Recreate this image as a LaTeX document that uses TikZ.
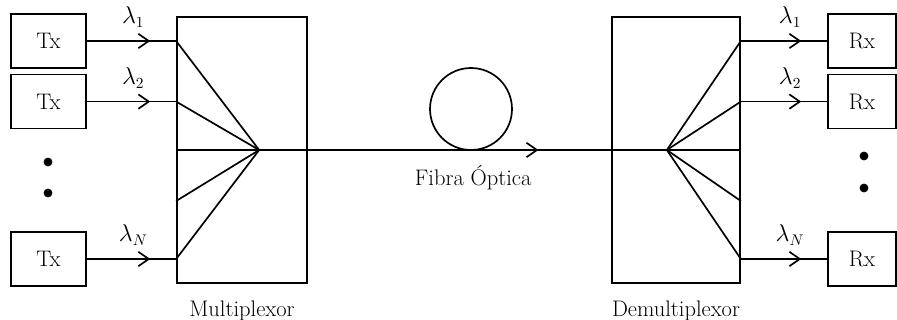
\documentclass[tikz,border=0pt]{standalone}
\usepackage{amsmath, amssymb}
\usepackage{tikz}
\usetikzlibrary{arrows.meta, positioning, decorations.markings}

\begin{document}
\begin{tikzpicture}[
        font=\fontsize{16}{18}\selectfont,
        line width=1.2pt,
        box/.style={rectangle, draw, minimum height=1.35cm, minimum width=1.875cm},
        mux/.style={rectangle, draw, minimum height=6.65cm, minimum width=3.25cm},
        lam/.style={above=2mm},
        sig/.style={decoration={markings, mark=at position #1 with {\arrow{Straight Barb[length=2.6mm, width=3.6mm]}}}, postaction={decorate}},
        dot/.style={circle, fill, inner sep=0pt, minimum size=2.2mm}
    ]
        \useasboundingbox (0,0) rectangle (22.425,8);
        % transmitters
        \node[box] (T1) at (1.21,6.975) {Tx};
        \node[box] (T2) at (1.21,5.46) {Tx};
        \node[box] (TN) at (1.21,1.525) {Tx};
        \node[dot] (tdot1) at (1.2,3.95) {};
        \node[dot] (tdot2) at (1.2,3.175) {};
        % multiplexor and demultiplexor
        \node[mux] (M) at (6.05,4.25) {};
        \node[mux, minimum width=3.2cm] (D) at (16.9,4.25) {};
        \node[below=0.3cm of M] (Ml) {Multiplexor};
        \node[below=0.3cm of D] (Dl) {Demultiplexor};
        % receivers
        \node[box, minimum width=1.7cm] (R1) at (21.55,6.975) {Rx};
        \node[box, minimum width=1.7cm] (R2) at (21.55,5.46) {Rx};
        \node[box, minimum width=1.7cm] (RN) at (21.55,1.525) {Rx};
        \node[dot] (rdot1) at (21.6,4.1) {};
        \node[dot] (rdot2) at (21.6,3.3) {};
        % ports on the boxes
        \coordinate (m1) at (M.west |- T1);
        \coordinate (m2) at (M.west |- T2);
        \coordinate (m3) at (M.west);
        \coordinate (m4) at (M.west |- 0,2.975);
        \coordinate (mN) at (M.west |- TN);
        \coordinate (d1) at (D.east |- R1);
        \coordinate (d2) at (D.east |- R2);
        \coordinate (d3) at (D.east);
        \coordinate (d4) at (D.east |- 0,2.975);
        \coordinate (dN) at (D.east |- RN);
        \coordinate (fm) at ([xshift=2.075cm]M.west);
        \coordinate (fd) at ([xshift=-1.85cm]D.east);
        % fan in / fan out
        \foreach \p in {m1,m2,m3,m4,mN} \draw (\p) -- (fm);
        \foreach \p in {d1,d2,d3,d4,dN} \draw (fd) -- (\p);
        % channels
        \draw[sig=0.71] (T1) -- (m1) node[lam, pos=0.52] {$\lambda_1$};
        \draw[sig=0.71] (T2) -- (m2) node[lam, pos=0.52] {$\lambda_2$};
        \draw[sig=0.71] (TN) -- (mN) node[lam, pos=0.52] {$\lambda_N$};
        \draw[sig=0.70] (d1) -- (R1) node[lam, pos=0.57] {$\lambda_1$};
        \draw[sig=0.70] (d2) -- (R2) node[lam, pos=0.57] {$\lambda_2$};
        \draw[sig=0.70] (dN) -- (RN) node[lam, pos=0.57] {$\lambda_N$};
        % fibre
        \node[circle, draw, minimum size=2.05cm, inner sep=0pt, outer sep=0pt] (coil) at (11.775,5.275) {};
        \draw[sig=0.685] (fm) -- (fd) node[pos=0.525, below=2.5mm] (Fl) {Fibra Óptica};
    \end{tikzpicture}
\end{document}
